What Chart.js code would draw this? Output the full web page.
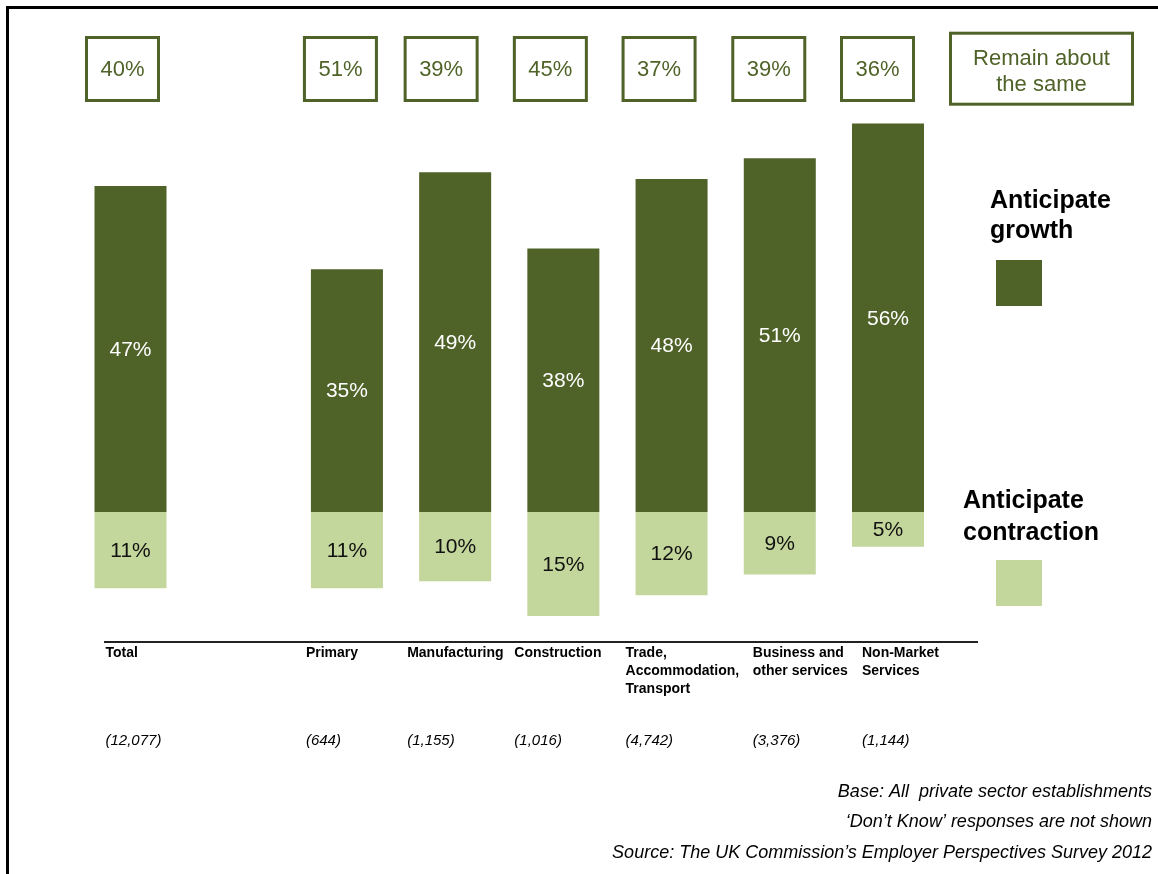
<!DOCTYPE html>
<html>
<head>
<meta charset="utf-8">
<script src="https://cdn.jsdelivr.net/npm/chart.js@4"></script>
<style>
  html, body { margin: 0; padding: 0; background: #fff; }
  canvas { display: block; }
</style>
</head>
<body>
<canvas id="outlook" width="1158" height="874"></canvas>
<script>
// sectors (the empty slot leaves the gap after Total)
const sectors = ['Total', '', 'Primary', 'Manufacturing', 'Construction',
    ['Trade,', 'Accommodation,', 'Transport'], ['Business and', 'other services'], ['Non-Market', 'Services']];
const baseCounts = ['(12,077)', '', '(644)', '(1,155)', '(1,016)', '(4,742)', '(3,376)', '(1,144)'];

// % of establishments
const growth = [47, null, 35, 49, 38, 48, 51, 56];
const contraction = [11, null, 11, 10, 15, 12, 9, 5];
const remainSame = [40, null, 51, 39, 45, 37, 39, 36];

const notes = [
    'Base: All  private sector establishments',
    '\u2018Don\u2019t Know\u2019 responses are not shown',
    'Source: The UK Commission\u2019s Employer Perspectives Survey 2012'
];

const DARK = '#4F6228';
const LIGHT = '#C3D69B';
const FONT = '"Liberation Sans", Arial, sans-serif';

// the boxes and sector names sit a little left of each bar centre
const boxShift = [-8, 0, -6.5, -14, -13, -12.5, -11, -10.5];
const nameShift = [-25, 0, -41, -48, -49, -46, -27, -26];

const annotations = {
    id: 'annotations',
    beforeDraw(chart) {
        const ctx = chart.ctx;
        ctx.save();
        ctx.fillStyle = '#fff';
        ctx.fillRect(0, 0, chart.width, chart.height);
        // frame on the top and left
        ctx.fillStyle = '#000';
        ctx.fillRect(6, 6, chart.width - 6, 3);
        ctx.fillRect(6, 6, 3, chart.height - 6);
        ctx.restore();
    },
    afterDatasetsDraw(chart) {
        const ctx = chart.ctx;
        const xs = chart.scales.x;
        ctx.save();

        // values inside the bars
        ctx.textAlign = 'center';
        ctx.textBaseline = 'middle';
        ctx.font = '21px ' + FONT;
        chart.data.datasets.forEach((ds, di) => {
            chart.getDatasetMeta(di).data.forEach((bar, i) => {
                const v = ds.data[i];
                if (v == null) return;
                ctx.fillStyle = di === 0 ? '#fff' : '#111';
                ctx.fillText(Math.abs(v) + '%', bar.x, (bar.y + bar.base) / 2 + 1);
            });
        });

        // "remain about the same" boxes
        ctx.strokeStyle = DARK;
        ctx.lineWidth = 3;
        ctx.font = '22px ' + FONT;
        ctx.fillStyle = DARK;
        remainSame.forEach((v, i) => {
            if (v == null) return;
            const cx = xs.getPixelForValue(i) + boxShift[i];
            ctx.strokeRect(cx - 36, 37.5, 72, 63);
            ctx.fillText(v + '%', cx, 70);
        });
        ctx.strokeRect(950.5, 33.2, 182, 71);
        ctx.textBaseline = 'alphabetic';
        ctx.fillText('Remain about', 1041.5, 65);
        ctx.fillText('the same', 1041.5, 91);

        // base line under the sectors
        ctx.fillStyle = '#222';
        ctx.fillRect(104, 641, 874, 2);

        // sector names and base sizes
        ctx.textAlign = 'left';
        ctx.fillStyle = '#000';
        sectors.forEach((s, i) => {
            const lx = xs.getPixelForValue(i) + nameShift[i];
            const lines = Array.isArray(s) ? s : [s];
            ctx.font = 'bold 14px ' + FONT;
            lines.forEach((t, j) => ctx.fillText(t, lx, 657 + j * 18));
            ctx.font = 'italic 15px ' + FONT;
            ctx.fillText(baseCounts[i], lx, 745);
        });

        // legend
        const legendPos = [
            { x: 990, y: 208, gap: 30, box: 260 },
            { x: 963, y: 508, gap: 32, box: 560 }
        ];
        ctx.font = 'bold 25px ' + FONT;
        chart.data.datasets.forEach((ds, di) => {
            const p = legendPos[di];
            ctx.fillStyle = '#000';
            ds.label.split(' ').forEach((t, j) => ctx.fillText(t, p.x, p.y + j * p.gap));
            ctx.fillStyle = ds.backgroundColor;
            ctx.fillRect(996, p.box, 46, 46);
        });

        // notes
        ctx.textAlign = 'right';
        ctx.fillStyle = '#000';
        ctx.font = 'italic 18px ' + FONT;
        notes.forEach((t, j) => ctx.fillText(t, 1152, [797, 827, 858][j]));

        ctx.restore();
    }
};

new Chart(document.getElementById('outlook'), {
    type: 'bar',
    data: {
        labels: sectors.map(s => Array.isArray(s) ? s.join(' ') : s),
        datasets: [
            { label: 'Anticipate growth', data: growth, backgroundColor: DARK },
            { label: 'Anticipate contraction', data: contraction.map(v => v == null ? null : -v), backgroundColor: LIGHT }
        ]
    },
    options: {
        responsive: false,
        animation: false,
        layout: { padding: { left: 76.4, right: 215.9, top: 95.84, bottom: 223.3 } },
        datasets: { bar: { categoryPercentage: 1, barPercentage: 0.6654 } },
        scales: {
            x: { display: false, stacked: true },
            y: { display: false, stacked: true, min: -20, max: 60 }
        },
        plugins: { legend: { display: false }, tooltip: { enabled: false } }
    },
    plugins: [annotations]
});
</script>
</body>
</html>
